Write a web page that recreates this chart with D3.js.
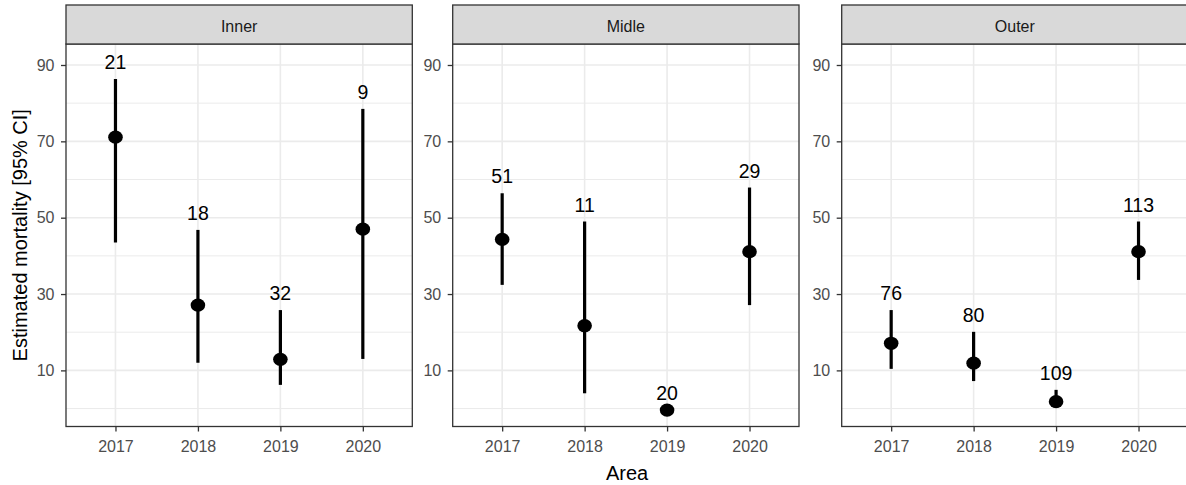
<!DOCTYPE html>
<html>
<head>
<meta charset="utf-8">
<script src="https://cdn.jsdelivr.net/npm/d3@7"></script>
<style>
  body { margin: 0; background: #fff; }
  text { font-family: "Liberation Sans", Arial, sans-serif; }
</style>
</head>
<body>
<script>
// data
var areas = ["Inner", "Midle", "Outer"];
var years = ["2017", "2018", "2019", "2020"];

var innerEst = [71.1, 27.1, 12.9, 47.0];
var innerLow = [43.5, 12.0, 6.2, 13.0];
var innerUp  = [86.3, 46.8, 25.8, 78.5];
var innerN   = [21, 18, 32, 9];

var midleEst = [44.3, 21.7, -0.4, 41.1];
var midleLow = [32.4, 4.0, -0.4, 27.1];
var midleUp  = [56.4, 49.0, -0.4, 57.9];
var midleN   = [51, 11, 20, 29];

var outerEst = [17.1, 11.9, 1.8, 41.1];
var outerLow = [10.4, 7.2, 0.8, 33.7];
var outerUp  = [25.8, 20.1, 4.9, 49.0];
var outerN   = [76, 80, 109, 113];

var majorTicks = [10, 30, 50, 70, 90];
var minorTicks = [0, 20, 40, 60, 80];

var series = [
  {area: areas[0], est: innerEst, low: innerLow, up: innerUp, n: innerN},
  {area: areas[1], est: midleEst, low: midleLow, up: midleUp, n: midleN},
  {area: areas[2], est: outerEst, low: outerLow, up: outerUp, n: outerN}
];

var width = 1186, height = 485;
var panelLeft = [66, 452.7, 841.7],
    panelW = 346.3,
    stripTop = 5, plotTop = 44, plotBottom = 426.5;

var svg = d3.select("body").append("svg")
    .attr("width", width)
    .attr("height", height);

var y = d3.scaleLinear()
    .domain([-4.7, 95.5])
    .range([plotBottom, plotTop]);

series.forEach(function(s, i) {
    var x0 = panelLeft[i];
    var x = d3.scalePoint()
        .domain(years)
        .range([x0, x0 + panelW])
        .padding(0.6);

    var g = svg.append("g");

    // panel background
    g.append("rect")
        .attr("x", x0).attr("y", plotTop)
        .attr("width", panelW).attr("height", plotBottom - plotTop)
        .attr("fill", "#fff");

    // grid
    g.selectAll(".minor").data(minorTicks).enter().append("line")
        .attr("x1", x0).attr("x2", x0 + panelW)
        .attr("y1", d => y(d)).attr("y2", d => y(d))
        .attr("stroke", "#EBEBEB").attr("stroke-width", 1);
    g.selectAll(".major").data(majorTicks).enter().append("line")
        .attr("x1", x0).attr("x2", x0 + panelW)
        .attr("y1", d => y(d)).attr("y2", d => y(d))
        .attr("stroke", "#EBEBEB").attr("stroke-width", 1.6);
    g.selectAll(".vgrid").data(years).enter().append("line")
        .attr("x1", d => x(d)).attr("x2", d => x(d))
        .attr("y1", plotTop).attr("y2", plotBottom)
        .attr("stroke", "#EBEBEB").attr("stroke-width", 1.6);

    var pts = years.map((yr, j) => ({year: yr, est: s.est[j], low: s.low[j], up: s.up[j], n: s.n[j]}));

    // error bars
    g.selectAll(".bar").data(pts).enter().append("line")
        .attr("x1", d => x(d.year)).attr("x2", d => x(d.year))
        .attr("y1", d => y(d.low)).attr("y2", d => y(d.up))
        .attr("stroke", "#000").attr("stroke-width", 3.2);

    // points
    g.selectAll(".pt").data(pts).enter().append("ellipse")
        .attr("cx", d => x(d.year)).attr("cy", d => y(d.est))
        .attr("rx", 7.3).attr("ry", 6.6)
        .attr("fill", "#000");

    // count labels
    g.selectAll(".lab").data(pts).enter().append("text")
        .attr("x", d => x(d.year)).attr("y", d => y(d.up) - 10)
        .attr("text-anchor", "middle")
        .style("font-size", "19.5px")
        .attr("fill", "#000")
        .text(d => d.n);

    // panel border
    g.append("rect")
        .attr("x", x0).attr("y", plotTop)
        .attr("width", panelW).attr("height", plotBottom - plotTop)
        .attr("fill", "none").attr("stroke", "#333").attr("stroke-width", 1.3);

    // strip
    g.append("rect")
        .attr("x", x0).attr("y", stripTop)
        .attr("width", panelW).attr("height", plotTop - stripTop)
        .attr("fill", "#D9D9D9").attr("stroke", "#333").attr("stroke-width", 1.3);
    g.append("text")
        .attr("x", x0 + panelW / 2).attr("y", 32)
        .attr("text-anchor", "middle")
        .style("font-size", "16px")
        .attr("fill", "#1A1A1A")
        .text(s.area);

    // y axis
    var ya = g.append("g")
        .attr("transform", "translate(" + x0 + ",0)")
        .call(d3.axisLeft(y).tickValues(majorTicks).tickSize(5).tickPadding(6.5));
    ya.select(".domain").remove();
    ya.selectAll("line").attr("stroke", "#333").attr("stroke-width", 1.3);
    ya.selectAll("text").attr("fill", "#4D4D4D")
        .style("font-size", "16px").style("font-family", "'Liberation Sans', Arial, sans-serif");

    // x axis
    var xa = g.append("g")
        .attr("transform", "translate(0," + plotBottom + ")")
        .call(d3.axisBottom(x).tickSize(5).tickPadding(9.5));
    xa.select(".domain").remove();
    xa.selectAll("line").attr("stroke", "#333").attr("stroke-width", 1.3);
    xa.selectAll("text").attr("fill", "#4D4D4D")
        .style("font-size", "16px").style("font-family", "'Liberation Sans', Arial, sans-serif");
});

// axis titles
svg.append("text")
    .attr("transform", "translate(27," + ((plotTop + plotBottom) / 2) + ") rotate(-90)")
    .attr("text-anchor", "middle")
    .style("font-size", "20px")
    .attr("fill", "#000")
    .text("Estimated mortality [95% CI]");

svg.append("text")
    .attr("x", (panelLeft[0] + panelLeft[2] + panelW) / 2)
    .attr("y", 480)
    .attr("text-anchor", "middle")
    .style("font-size", "20px")
    .attr("fill", "#000")
    .text("Area");
</script>
</body>
</html>
